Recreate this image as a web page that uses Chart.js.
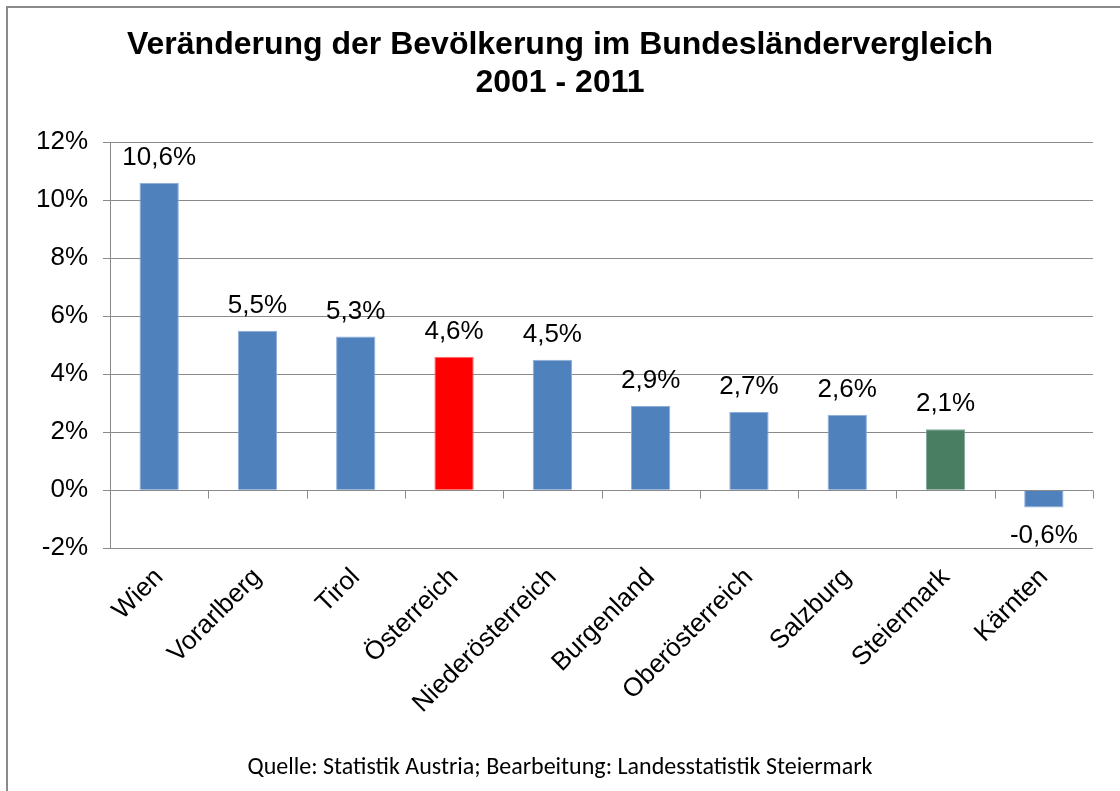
<!DOCTYPE html>
<html>
<head>
<meta charset="utf-8">
<script src="https://cdn.jsdelivr.net/npm/chart.js@4"></script>
<style>
  html, body { margin: 0; padding: 0; background: #fff; }
  #wrap { position: relative; width: 1120px; height: 791px; overflow: hidden; }
  #frame { position: absolute; left: 6px; top: 6px; width: 1200px; height: 900px; border: 2px solid #8a8a8a; }
  #chart { position: absolute; left: 0; top: 0; }
</style>
</head>
<body>
<div id="wrap">
  <div id="frame"></div>
  <canvas id="chart" width="1120" height="791"></canvas>
</div>
<script>
// Bundesländer und Veränderung 2001-2011 in %
const regions = ["Wien", "Vorarlberg", "Tirol", "Österreich", "Niederösterreich",
  "Burgenland", "Oberösterreich", "Salzburg", "Steiermark", "Kärnten"];
const changes = [10.6, 5.5, 5.3, 4.6, 4.5, 2.9, 2.7, 2.6, 2.1, -0.6];
const yTicks = [-2, 0, 2, 4, 6, 8, 10, 12];

const BLUE = "#4f81bd";
const RED = "#ff0000";
const GREEN = "#4a7e63";

const barColors = regions.map((r) =>
  r === "Österreich" ? RED : r === "Steiermark" ? GREEN : BLUE
);
const barBorders = regions.map((r) =>
  r === "Österreich" ? "#ff6b6b" : r === "Steiermark" ? "#7fa893" : "#8eaedb"
);

const fmt = (v) => v.toFixed(1).replace(".", ",") + "%";
const FONT = "'Liberation Sans', Arial, sans-serif";

// Nulllinie mit Kategorie-Teilstrichen
const zeroAxis = {
  id: "zeroAxis",
  afterDatasetsDraw(chart) {
    const { ctx, chartArea, scales } = chart;
    const y0 = Math.round(scales.y.getPixelForValue(0)) + 0.5;
    ctx.save();
    ctx.strokeStyle = "#8a8a8a";
    ctx.lineWidth = 1;
    ctx.beginPath();
    ctx.moveTo(chartArea.left, y0);
    ctx.lineTo(chartArea.right, y0);
    for (let i = 1; i <= regions.length; i++) {
      const x = Math.round(scales.x.getPixelForValue(i - 0.5)) + 0.5;
      ctx.moveTo(x, y0);
      ctx.lineTo(x, y0 + 8);
    }
    ctx.stroke();
    ctx.restore();
  },
};

// Datenbeschriftung
const valueLabels = {
  id: "valueLabels",
  afterDatasetsDraw(chart) {
    const { ctx } = chart;
    const meta = chart.getDatasetMeta(0);
    ctx.save();
    ctx.font = "26px " + FONT;
    ctx.fillStyle = "#000";
    ctx.textAlign = "center";
    ctx.textBaseline = "middle";
    meta.data.forEach((bar, i) => {
      const v = changes[i];
      const y = v >= 0 ? bar.y - 25 : bar.y + 28;
      ctx.fillText(fmt(v), bar.x, y);
    });
    ctx.restore();
  },
};

new Chart(document.getElementById("chart"), {
  type: "bar",
  data: {
    labels: regions,
    datasets: [
      {
        data: changes,
        backgroundColor: barColors,
        borderColor: barBorders,
        borderWidth: 1,
        barPercentage: 0.4,
        categoryPercentage: 1.0,
      },
    ],
  },
  options: {
    responsive: false,
    animation: false,
    layout: { padding: 0 },
    plugins: {
      legend: { display: false },
      tooltip: { enabled: false },
      title: {
        display: true,
        text: ["Veränderung der Bevölkerung im Bundesländervergleich", "2001 - 2011"],
        color: "#000",
        font: { family: FONT, size: 32, weight: "bold", lineHeight: 1.19 },
        padding: { top: 26, bottom: 40 },
      },
      subtitle: {
        display: true,
        position: "bottom",
        text: "Quelle: Statistik Austria; Bearbeitung: Landesstatistik Steiermark",
        color: "#000",
        font: { family: "Carlito, 'Open Sans', sans-serif", size: 24, lineHeight: 1.2 },
        padding: { top: 0, bottom: 9 },
      },
    },
    scales: {
      x: {
        grid: { display: false },
        border: { display: false },
        ticks: {
          color: "#000",
          font: { family: FONT, size: 26 },
          minRotation: 45,
          maxRotation: 45,
          padding: 6,
          autoSkip: false,
        },
        afterFit(scale) {
          scale.height = 205;
        },
      },
      y: {
        min: -2,
        max: 12,
        afterBuildTicks(scale) {
          scale.ticks = yTicks.map((v) => ({ value: v }));
        },
        grid: { color: "#8a8a8a", tickLength: 7, lineWidth: 1 },
        border: { display: true, color: "#8a8a8a" },
        ticks: {
          color: "#000",
          font: { family: FONT, size: 26 },
          padding: 15,
          callback: (v) => v + "%",
        },
        afterFit(scale) {
          scale.width = 110;
        },
      },
      yRight: {
        position: "right",
        display: true,
        grid: { display: false },
        border: { display: false },
        ticks: { display: false },
        afterFit(scale) {
          scale.width = 27;
        },
      },
    },
  },
  plugins: [zeroAxis, valueLabels],
});
</script>
</body>
</html>
